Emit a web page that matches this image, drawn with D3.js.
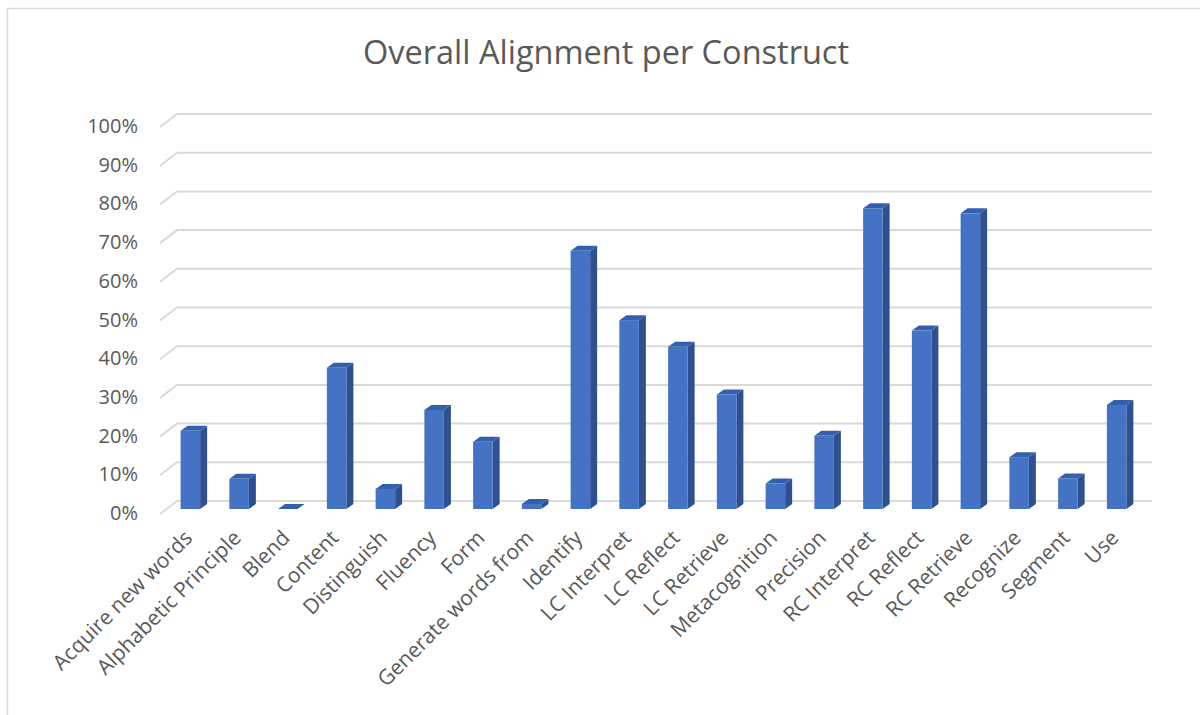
<!DOCTYPE html>
<html>
<head>
<meta charset="utf-8">
<script src="https://cdn.jsdelivr.net/npm/d3@7"></script>
<style>
  body { margin: 0; background: #fff; }
  svg { display: block; font-family: "Open Sans", "Noto Sans", sans-serif; }
</style>
</head>
<body>
<svg id="chart" width="1200" height="715"></svg>
<script>
// categories and values (share of items aligned)
const categories = ['Acquire new words', 'Alphabetic Principle', 'Blend', 'Content', 'Distinguish',
  'Fluency', 'Form', 'Generate words from', 'Identify', 'LC Interpret', 'LC Reflect', 'LC Retrieve',
  'Metacognition', 'Precision', 'RC Interpret', 'RC Reflect', 'RC Retrieve', 'Recognize', 'Segment', 'Use'];
const alignment = [0.202, 0.078, 0.0, 0.365, 0.052, 0.256, 0.174, 0.013, 0.667, 0.488, 0.419, 0.296,
  0.066, 0.189, 0.777, 0.461, 0.764, 0.134, 0.079, 0.269];
const yTicks = [0, 0.1, 0.2, 0.3, 0.4, 0.5, 0.6, 0.7, 0.8, 0.9, 1.0];

const svg = d3.select('#chart');

// chart border
svg.append('rect')
  .attr('x', 7.5).attr('y', 8.5)
  .attr('width', 1300).attr('height', 800)
  .attr('fill', 'none').attr('stroke', '#d9d9d9').attr('stroke-width', 1.5);

// title
svg.append('text')
  .attr('x', 606).attr('y', 64)
  .attr('text-anchor', 'middle')
  .attr('font-size', 32.5)
  .attr('fill', '#595959')
  .text('Overall Alignment per Construct');

const y = d3.scaleLinear().domain([0, 1]).range([509, 122]);
const x = d3.scaleBand().domain(categories).range([166, 1141])
  .paddingInner(0.6).paddingOuter(0.3);

// 3D offsets
const wallDx = 17, wallDy = -13;   // full floor depth
const barDx = 7, barDy = -5;       // bar depth

// gridlines: short diagonal on the left, then along the back wall
const grid = svg.append('g');
yTicks.forEach(t => {
  const yb = y(t) - 8;
  grid.append('path')
    .attr('d', `M160,${yb - wallDy} L${160 + wallDx},${yb} L1152,${yb}`)
    .attr('fill', 'none').attr('stroke', '#d9d9d9').attr('stroke-width', 2);
});

// y labels
svg.append('g').selectAll('text')
  .data(yTicks)
  .join('text')
  .attr('x', 138)
  .attr('y', d => y(d) + 4)
  .attr('dy', '0.35em')
  .attr('text-anchor', 'end')
  .attr('font-size', 20)
  .attr('fill', '#595959')
  .text(d => d3.format('.0%')(d));

// bars
const bars = svg.append('g').selectAll('g')
  .data(categories.map((c, i) => ({ name: c, value: alignment[i] })))
  .join('g');

bars.append('path') // side face
  .attr('d', d => {
    const x1 = x(d.name) + x.bandwidth(), yt = y(d.value), yb = y(0);
    return `M${x1},${yt} L${x1 + barDx},${yt + barDy} L${x1 + barDx},${yb + barDy} L${x1},${yb} Z`;
  })
  .attr('fill', '#2e5090');

bars.append('path') // top face
  .attr('d', d => {
    const x0 = x(d.name), x1 = x0 + x.bandwidth(), yt = y(d.value);
    return `M${x0},${yt} L${x0 + barDx},${yt + barDy} L${x1 + barDx},${yt + barDy} L${x1},${yt} Z`;
  })
  .attr('fill', '#3360ad');

bars.append('rect') // front face
  .attr('x', d => x(d.name))
  .attr('y', d => y(d.value))
  .attr('width', x.bandwidth())
  .attr('height', d => y(0) - y(d.value))
  .attr('fill', '#4472c4');

// x labels, rotated
svg.append('g').selectAll('text')
  .data(categories)
  .join('text')
  .attr('transform', d => `translate(${x(d) + x.bandwidth() / 2 - 2},534) rotate(-45)`)
  .attr('dy', '0.35em')
  .attr('text-anchor', 'end')
  .attr('font-size', 21)
  .attr('fill', '#595959')
  .text(d => d);
</script>
</body>
</html>
